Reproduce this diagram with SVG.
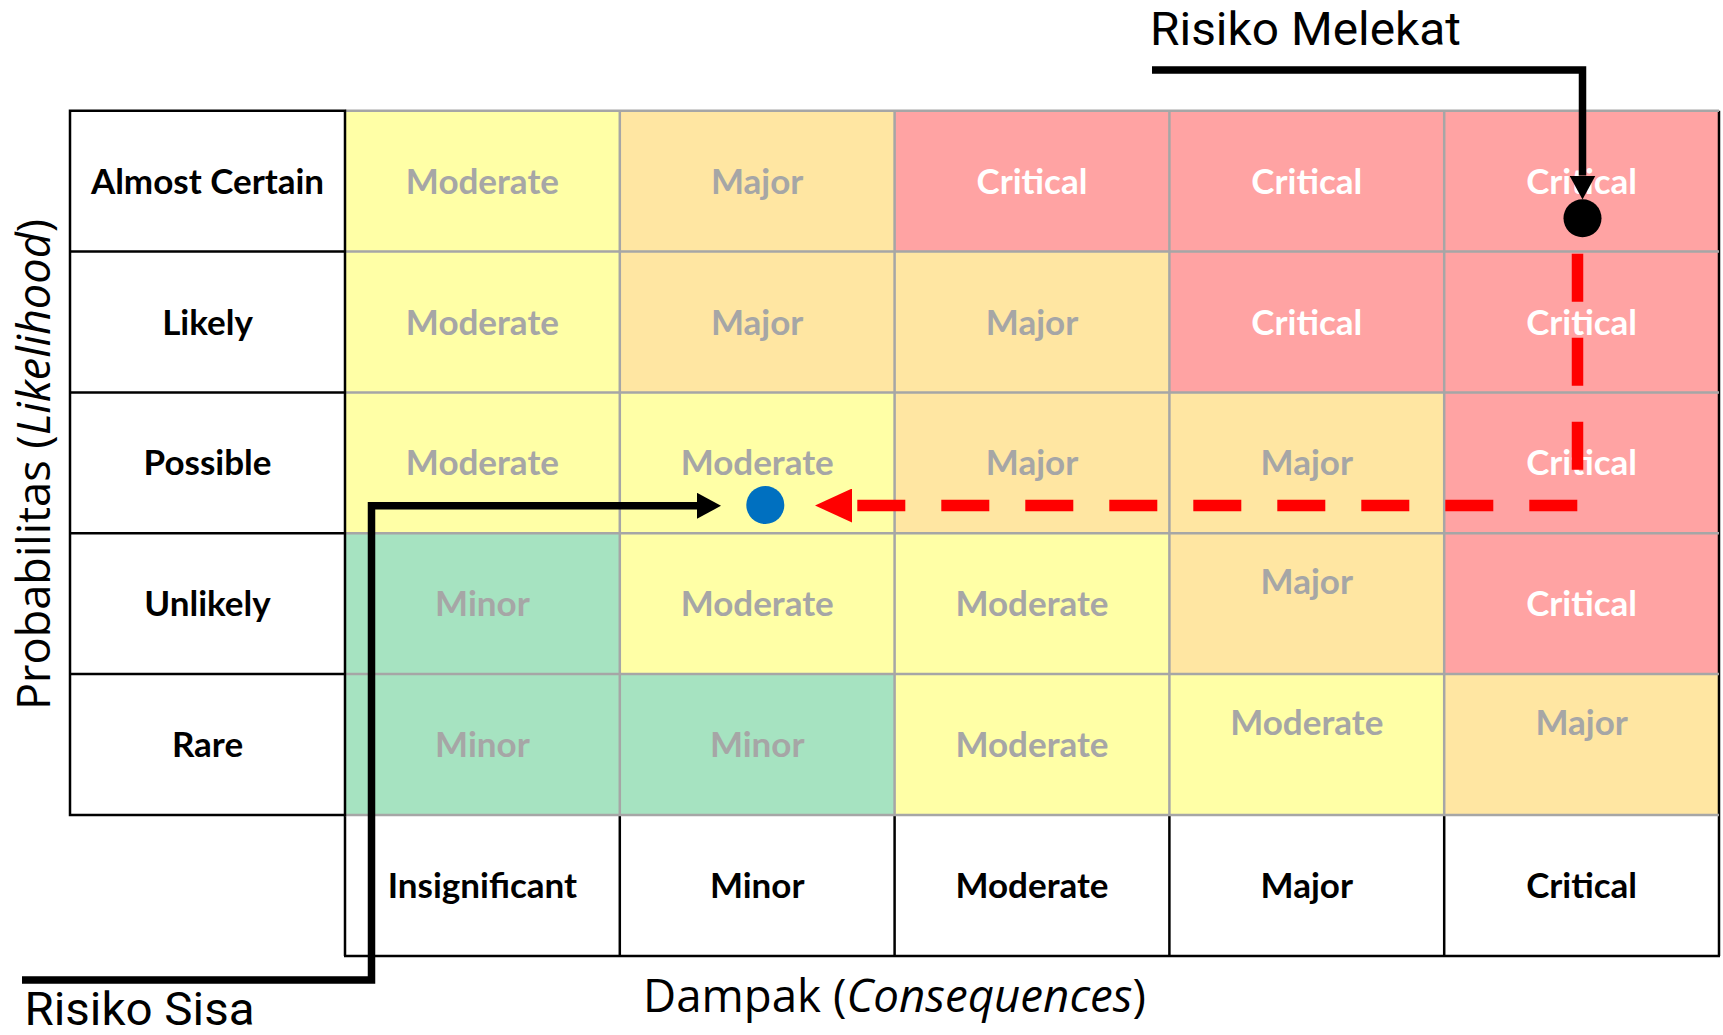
<svg xmlns="http://www.w3.org/2000/svg" width="1723" height="1035" viewBox="0 0 1723 1035">
  <defs>
    <style>
      .yel{fill:#FFFFA6}
      .org{fill:#FFE6A2}
      .red{fill:#FFA3A3}
      .grn{fill:#A6E3C1}
      .grid{fill:none;stroke:#A6A6A6;stroke-width:2.5}
      .frame{fill:none;stroke:#000;stroke-width:2.5}
      .t{font-family:Lato,"Open Sans","Liberation Sans",sans-serif;font-weight:700;font-size:35px;text-anchor:middle}
      .head{fill:#000}
      .val{fill:#A6A6A6}
      .crit{fill:#FFFFFF}
      .axis{font-family:"Open Sans","Noto Sans","Liberation Sans",sans-serif;font-size:46px;fill:#000}
      .note{font-family:Roboto,"Liberation Sans",sans-serif;font-size:46px;fill:#000}
      .lead{fill:none;stroke:#000;stroke-width:7.5;stroke-linejoin:miter}
      .move{fill:none;stroke:#FF0000;stroke-width:11.5;stroke-dasharray:48 36}
    </style>
    <marker id="arrow-black" markerUnits="userSpaceOnUse" viewBox="0 0 24 26" markerWidth="24" markerHeight="26" refX="0" refY="13" orient="auto">
      <path d="M0,0 L24,13 L0,26 Z" fill="#000"/>
    </marker>
    <marker id="arrow-red" markerUnits="userSpaceOnUse" viewBox="-5 0 42 34" markerWidth="42" markerHeight="34" refX="-5" refY="17" orient="auto">
      <path d="M0,0 L37,17 L0,34 Z" fill="#FF0000"/>
    </marker>
  </defs>

  <rect width="1723" height="1035" fill="#FFFFFF"/>

  <!-- row headers (likelihood) -->
  <g id="row-almost-certain"><text class="t head" x="207.5" y="193.7">Almost Certain</text></g>
  <g id="row-likely"><text class="t head" x="207.5" y="334.5">Likely</text></g>
  <g id="row-possible"><text class="t head" x="207.5" y="475.4">Possible</text></g>
  <g id="row-unlikely"><text class="t head" x="207.5" y="616.2">Unlikely</text></g>
  <g id="row-rare"><text class="t head" x="207.5" y="757">Rare</text></g>

  <!-- risk cells: row 1 -->
  <g id="c-1-1"><rect class="yel" x="345" y="110.7" width="274.8" height="140.9"/><text class="t val" x="482.4" y="193.7">Moderate</text></g>
  <g id="c-1-2"><rect class="org" x="619.8" y="110.7" width="274.8" height="140.9"/><text class="t val" x="757.2" y="193.7">Major</text></g>
  <g id="c-1-3"><rect class="red" x="894.6" y="110.7" width="274.8" height="140.9"/><text class="t crit" x="1032" y="193.7">Critical</text></g>
  <g id="c-1-4"><rect class="red" x="1169.4" y="110.7" width="274.8" height="140.9"/><text class="t crit" x="1306.8" y="193.7">Critical</text></g>
  <g id="c-1-5"><rect class="red" x="1444.2" y="110.7" width="274.8" height="140.9"/><text class="t crit" x="1581.6" y="193.7">Critical</text></g>
  <!-- row 2 -->
  <g id="c-2-1"><rect class="yel" x="345" y="251.6" width="274.8" height="140.9"/><text class="t val" x="482.4" y="334.5">Moderate</text></g>
  <g id="c-2-2"><rect class="org" x="619.8" y="251.6" width="274.8" height="140.9"/><text class="t val" x="757.2" y="334.5">Major</text></g>
  <g id="c-2-3"><rect class="org" x="894.6" y="251.6" width="274.8" height="140.9"/><text class="t val" x="1032" y="334.5">Major</text></g>
  <g id="c-2-4"><rect class="red" x="1169.4" y="251.6" width="274.8" height="140.9"/><text class="t crit" x="1306.8" y="334.5">Critical</text></g>
  <g id="c-2-5"><rect class="red" x="1444.2" y="251.6" width="274.8" height="140.9"/><text class="t crit" x="1581.6" y="334.5">Critical</text></g>
  <!-- row 3 -->
  <g id="c-3-1"><rect class="yel" x="345" y="392.4" width="274.8" height="140.9"/><text class="t val" x="482.4" y="475.4">Moderate</text></g>
  <g id="c-3-2"><rect class="yel" x="619.8" y="392.4" width="274.8" height="140.9"/><text class="t val" x="757.2" y="475.4">Moderate</text></g>
  <g id="c-3-3"><rect class="org" x="894.6" y="392.4" width="274.8" height="140.9"/><text class="t val" x="1032" y="475.4">Major</text></g>
  <g id="c-3-4"><rect class="org" x="1169.4" y="392.4" width="274.8" height="140.9"/><text class="t val" x="1306.8" y="475.4">Major</text></g>
  <g id="c-3-5"><rect class="red" x="1444.2" y="392.4" width="274.8" height="140.9"/><text class="t crit" x="1581.6" y="475.4">Critical</text></g>
  <!-- row 4 -->
  <g id="c-4-1"><rect class="grn" x="345" y="533.3" width="274.8" height="140.9"/><text class="t val" x="482.4" y="616.2">Minor</text></g>
  <g id="c-4-2"><rect class="yel" x="619.8" y="533.3" width="274.8" height="140.9"/><text class="t val" x="757.2" y="616.2">Moderate</text></g>
  <g id="c-4-3"><rect class="yel" x="894.6" y="533.3" width="274.8" height="140.9"/><text class="t val" x="1032" y="616.2">Moderate</text></g>
  <g id="c-4-4"><rect class="org" x="1169.4" y="533.3" width="274.8" height="140.9"/><text class="t val" x="1306.8" y="594">Major</text></g>
  <g id="c-4-5"><rect class="red" x="1444.2" y="533.3" width="274.8" height="140.9"/><text class="t crit" x="1581.6" y="616.2">Critical</text></g>
  <!-- row 5 -->
  <g id="c-5-1"><rect class="grn" x="345" y="674.1" width="274.8" height="140.9"/><text class="t val" x="482.4" y="757">Minor</text></g>
  <g id="c-5-2"><rect class="grn" x="619.8" y="674.1" width="274.8" height="140.9"/><text class="t val" x="757.2" y="757">Minor</text></g>
  <g id="c-5-3"><rect class="yel" x="894.6" y="674.1" width="274.8" height="140.9"/><text class="t val" x="1032" y="757">Moderate</text></g>
  <g id="c-5-4"><rect class="yel" x="1169.4" y="674.1" width="274.8" height="140.9"/><text class="t val" x="1306.8" y="735">Moderate</text></g>
  <g id="c-5-5"><rect class="org" x="1444.2" y="674.1" width="274.8" height="140.9"/><text class="t val" x="1581.6" y="735">Major</text></g>

  <!-- column headers (consequences) -->
  <g id="col-insignificant"><text class="t head" x="482.4" y="898">Insignificant</text></g>
  <g id="col-minor"><text class="t head" x="757.2" y="898">Minor</text></g>
  <g id="col-moderate"><text class="t head" x="1032" y="898">Moderate</text></g>
  <g id="col-major"><text class="t head" x="1306.8" y="898">Major</text></g>
  <g id="col-critical"><text class="t head" x="1581.6" y="898">Critical</text></g>

  <!-- table rules -->
  <g id="rules">
    <path class="frame" d="M345,815 V956 M619.8,815 V956 M894.6,815 V956 M1169.4,815 V956 M1444.2,815 V956 M344,956 H1720"/>
    <path class="frame" d="M1719,110.7 V956"/>
    <path class="grid" d="M345,110.7 H1719 M345,251.6 H1719 M345,392.4 H1719 M345,533.3 H1719 M345,674.1 H1719 M345,815 H1719 M619.8,110.7 V815 M894.6,110.7 V815 M1169.4,110.7 V815 M1444.2,110.7 V815"/>
    <path class="frame" d="M70,110.7 H345 V815 H70 Z M70,251.6 H345 M70,392.4 H345 M70,533.3 H345 M70,674.1 H345"/>
  </g>

  <!-- axis titles -->
  <g id="axis-y"><text class="axis" transform="translate(50,464.5) rotate(-90)" text-anchor="middle" textLength="491" lengthAdjust="spacingAndGlyphs">Probabilitas (<tspan font-style="italic">Likelihood</tspan>)</text></g>
  <g id="axis-x"><text class="axis" x="643" y="1012" textLength="503" lengthAdjust="spacingAndGlyphs">Dampak (<tspan font-style="italic">Consequences</tspan>)</text></g>

  <!-- connectors -->
  <g id="connectors">
    <path class="move" d="M1577.5,253.7 V505.5 H857" marker-end="url(#arrow-red)"/>
    <path class="lead" d="M1152,70 H1582.5 V175.5" marker-end="url(#arrow-black)"/>
    <path class="lead" d="M22,980 H371.5 V505.8 H697" marker-end="url(#arrow-black)"/>
  </g>

  <!-- risk positions -->
  <g id="inherent-risk"><circle cx="1582.5" cy="218.3" r="19" fill="#000"/></g>
  <g id="residual-risk"><circle cx="765.3" cy="505" r="19" fill="#0070C0"/></g>

  <!-- callout labels -->
  <g id="label-inherent"><text class="note" x="1150" y="45" textLength="311" lengthAdjust="spacingAndGlyphs">Risiko Melekat</text></g>
  <g id="label-residual"><text class="note" x="24.5" y="1025" font-size="44" textLength="230" lengthAdjust="spacingAndGlyphs">Risiko Sisa</text></g>
</svg>
